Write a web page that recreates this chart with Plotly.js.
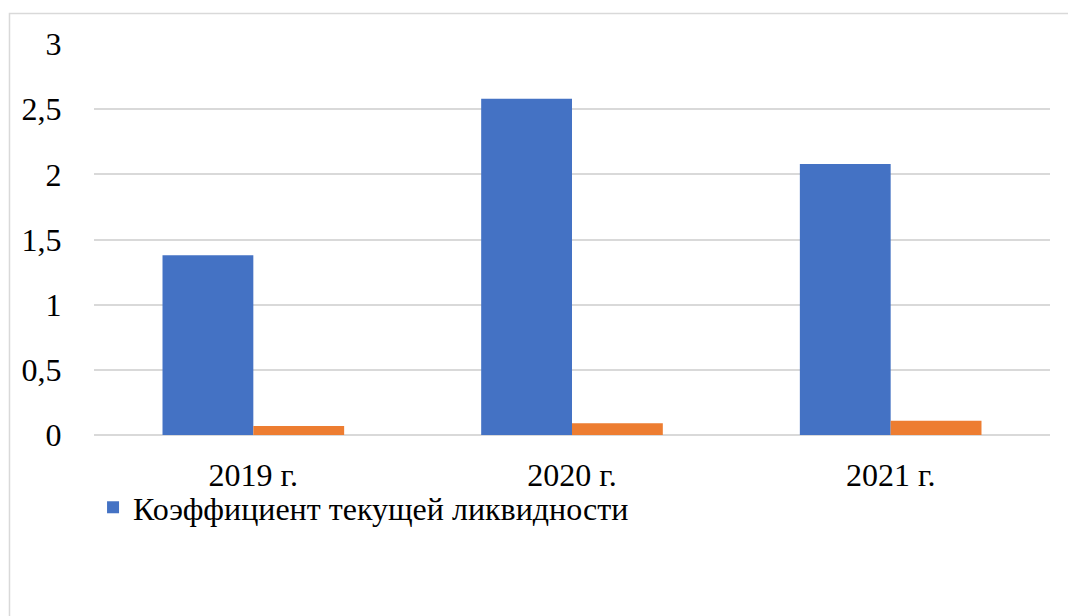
<!DOCTYPE html>
<html>
<head>
<meta charset="utf-8">
<script src="https://cdn.plot.ly/plotly-3.0.1.min.js"></script>
</head>
<body style="margin:0">
<div id="chart" style="width:1068px;height:616px"></div>
<script>
const categories = ["2019 г.", "2020 г.", "2021 г."];
const currentRatio = [1.38, 2.58, 2.08];
const secondSeries = [0.07, 0.09, 0.11];
const seriesName1 = "Коэффициент текущей ликвидности";
const seriesName2 = "";
const yTickVals = [0, 0.5, 1, 1.5, 2, 2.5, 3];
const yTickText = ["0", "0,5", "1", "1,5", "2", "2,5", "3"];

const traces = [
  {type: "bar", x: categories, y: currentRatio, name: seriesName1,
   marker: {color: "#4472C4"}},
  {type: "bar", x: categories, y: secondSeries, name: seriesName2,
   marker: {color: "#ED7D31"}, showlegend: false}
];

const layout = {
  width: 1068, height: 616,
  margin: {l: 94, r: 18, t: 44, b: 181},
  font: {family: "Liberation Serif", size: 32},
  barmode: "group",
  bargap: 0.43,
  bargroupgap: 0,
  showlegend: true,
  legend: {orientation: "h", x: -0.001, xanchor: "left", y: -0.115, yanchor: "top",
           itemwidth: 30, bgcolor: "rgba(0,0,0,0)"},
  xaxis: {type: "category", showgrid: false, zeroline: false, showline: false,
          ticks: "outside", ticklen: 12, tickcolor: "rgba(0,0,0,0)"},
  yaxis: {range: [0, 3], tickvals: yTickVals, ticktext: yTickText,
          showgrid: true, gridcolor: "#d9d9d9", gridwidth: 1.5,
          zeroline: true, zerolinecolor: "#d9d9d9", zerolinewidth: 1.5,
          showline: false, ticks: "outside", ticklen: 25, tickcolor: "rgba(0,0,0,0)"},
  shapes: [{type: "rect", xref: "paper", yref: "paper", x0: -0.0884, x1: 1.2,
            y0: -1, y1: 1.078, line: {color: "#d9d9d9", width: 1.5}, layer: "below"}]
};

Plotly.newPlot("chart", traces, layout, {displayModeBar: false}).then(function (gd) {
  gd.querySelectorAll("svg text").forEach(function (t) { t.style.fill = "#000000"; });
});
</script>
</body>
</html>
